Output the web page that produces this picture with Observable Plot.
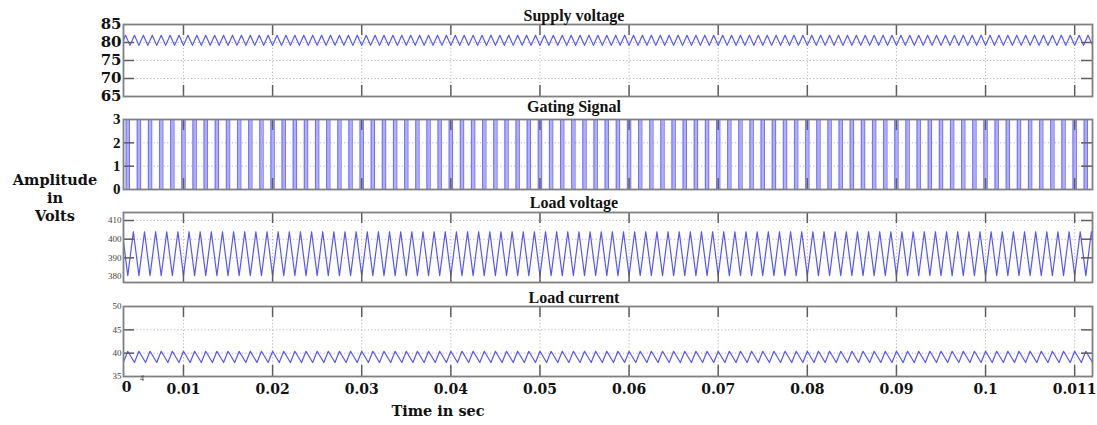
<!DOCTYPE html>
<html>
<head>
<meta charset="utf-8">
<script src="https://cdn.jsdelivr.net/npm/d3@7"></script>
<script src="https://cdn.jsdelivr.net/npm/@observablehq/plot@0.6"></script>
<style>
  body { margin: 0; background: #fff; overflow: hidden; }
  #chart { position: relative; width: 1097px; height: 425px; font-family: "Liberation Serif", "Times New Roman", serif; }
  .lbl { position: absolute; font-weight: bold; font-size: 16px; color: #111; white-space: nowrap; transform: translate(-50%, -50%); line-height: 1; }
  .wide { font-family: "DejaVu Serif", serif; font-size: 14.5px; }
  .small { font-size: 8px; font-weight: normal; color: #333; }
  .panel { position: absolute; left: 0; }
</style>
</head>
<body>
<div id="chart"></div>
<script>
// ---- time axis ----
const timeDomain = [0.00327, 0.112];
const xTicks = [0.01, 0.02, 0.03, 0.04, 0.05, 0.06, 0.07, 0.08, 0.09, 0.10, 0.11];
const xTickLabels = ["0.01", "0.02", "0.03", "0.04", "0.05", "0.06", "0.07", "0.08", "0.09", "0.1", "0.011"];
const originLabel = "0";
const xAxisTitle = "Time in sec";
const yAxisTitle = ["Amplitude", "in", "Volts"];
const panelTitles = ["Supply voltage", "Gating Signal", "Load voltage", "Load current"];

// ---- supply voltage ----
const supplyDomain = [65, 85];
const supplyTicks = [65, 70, 75, 80, 85];
const supplyGrid = [70, 75, 80];
const supplyPeriod = 0.001;                 // s
const supplyPhase = [0, 0.5];               // trough, crest (fraction of a period)
const supplyLevel = [79.2, 82.0];           // V

// ---- gating signal ----
const gatingDomain = [0, 3];
const gatingTicks = [0, 1, 2, 3];
const gatingGrid = [1, 2];
const gatingPeriod = 0.00125;               // s
const gatingLevels = [0, 3];                // off / on
const gatingOffFraction = 0.3;              // share of each period spent off

// ---- load voltage ----
const loadVDomain = [376.8, 414.3];
const loadVTicks = [380, 390, 400, 410];
const loadVGrid = [390, 400, 410];
const loadVPeriod = 0.00125;
const loadVPhase = [0, 0.5];
const loadVLevel = [380.5, 404.0];

// ---- load current ----
const loadIDomain = [35, 50];
const loadITicks = [35, 40, 45, 50];
const loadIGrid = [40, 45];
const loadIPeriod = 0.00125;
const loadIPhase = [0, 0.6];
const loadILevel = [40.4, 38.0];

// repeat one measured cycle over the visible time span
function repeatCycle(period, phases, levels) {
  const out = [];
  const k0 = Math.floor(timeDomain[0] / period) - 1;
  const k1 = Math.ceil(timeDomain[1] / period) + 1;
  for (let k = k0; k <= k1; k++) {
    phases.forEach((p, i) => out.push({t: (k + p) * period, v: levels[i]}));
  }
  return out;
}

function gatingPulses() {
  const out = [];
  const half = gatingOffFraction * gatingPeriod / 2;
  const k0 = Math.floor(timeDomain[0] / gatingPeriod) - 1;
  const k1 = Math.ceil(timeDomain[1] / gatingPeriod) + 1;
  for (let k = k0; k <= k1; k++) out.push({x1: k * gatingPeriod - half, x2: k * gatingPeriod + half});
  return out;
}
function gatingTrace(pulses) {
  const [lo, hi] = gatingLevels;
  return pulses.flatMap(p => [{t: p.x1, v: hi}, {t: p.x1, v: lo}, {t: p.x2, v: lo}, {t: p.x2, v: hi}]);
}

const W = 1097, ML = 123, MR = 5, FW = W - ML - MR;
const WAVE = "#5656ff";
const FRAME = "#808080";
const TICK = "#5e5e5e";
const GRID = "#b5b5b5";
const TICK_LEN = 11;
const WIDE_FONT = '"DejaVu Serif", serif';

function panel({frameTop, frameH, yDomain, yTicks, yGrid, labelStyle, marks, bottomAxis}) {
  const mt = 4, mb = bottomAxis ? 40 : 4;
  const axisLabels = Plot.axisY(yTicks, {
    anchor: "left", tickSize: 0, tickPadding: labelStyle.pad, label: null,
    fontSize: labelStyle.size, fontWeight: labelStyle.weight, fill: labelStyle.color,
    fontFamily: labelStyle.family
  });
  const m = [
    Plot.ruleX(xTicks, {stroke: GRID, strokeDasharray: "1.2,2.2", strokeWidth: 1}),
    Plot.ruleY(yGrid, {stroke: GRID, strokeDasharray: "1.2,2.2", strokeWidth: 1}),
    ...marks,
    Plot.ruleX(xTicks, {stroke: TICK, strokeWidth: 1.5, insetBottom: frameH - TICK_LEN}),
    Plot.ruleX(xTicks, {stroke: TICK, strokeWidth: 1.5, insetTop: frameH - TICK_LEN}),
    Plot.ruleY(yGrid, {stroke: TICK, strokeWidth: 1.5, insetRight: FW - TICK_LEN}),
    Plot.ruleY(yGrid, {stroke: TICK, strokeWidth: 1.5, insetLeft: FW - TICK_LEN}),
    Plot.frame({stroke: FRAME, strokeWidth: 1.8}),
    axisLabels
  ];
  if (bottomAxis) {
    m.push(Plot.axisX(xTicks, {
      anchor: "bottom", tickSize: 0, tickPadding: 8, label: null,
      tickFormat: d => xTickLabels[xTicks.indexOf(d)],
      fontSize: 14, fontWeight: "bold", fill: "#111", fontFamily: WIDE_FONT
    }));
    m.push(Plot.text([originLabel], {
      x: () => timeDomain[0], frameAnchor: "bottom", dx: 3, dy: 15,
      text: d => d, fontSize: 14, fontWeight: "bold", fill: "#111", fontFamily: WIDE_FONT
    }));
  }
  const svg = Plot.plot({
    width: W, height: frameH + mt + mb,
    marginLeft: ML, marginRight: MR, marginTop: mt, marginBottom: mb,
    x: {domain: timeDomain, axis: null},
    y: {domain: yDomain, axis: null},
    style: {fontFamily: '"Liberation Serif", "Times New Roman", serif', background: "transparent", overflow: "visible"},
    marks: m
  });
  svg.classList.add("panel");
  svg.style.top = (frameTop - mt) + "px";
  return svg;
}

const chart = document.getElementById("chart");
const wideBold = {size: 15, weight: "bold", color: "#111", pad: 2, family: WIDE_FONT};
const bold = {size: 15, weight: "bold", color: "#111", pad: 3};
const small = {size: 9, weight: "normal", color: "#444", pad: 2};

const pulses = gatingPulses();

chart.append(
  panel({
    frameTop: 24, frameH: 72, yDomain: supplyDomain, yTicks: supplyTicks, yGrid: supplyGrid, labelStyle: wideBold,
    marks: [Plot.line(repeatCycle(supplyPeriod, supplyPhase, supplyLevel), {x: "t", y: "v", stroke: WAVE, strokeWidth: 1.2, clip: true})]
  }),
  panel({
    frameTop: 119, frameH: 70, yDomain: gatingDomain, yTicks: gatingTicks, yGrid: gatingGrid, labelStyle: bold,
    marks: [
      Plot.rect(pulses, {x1: "x1", x2: "x2", y1: gatingLevels[0], y2: gatingLevels[1], fill: "#b0b0ff", clip: true}),
      Plot.line(gatingTrace(pulses), {x: "t", y: "v", stroke: "#7474ff", strokeWidth: 1.1, clip: true})
    ]
  }),
  panel({
    frameTop: 212, frameH: 70, yDomain: loadVDomain, yTicks: loadVTicks, yGrid: loadVGrid, labelStyle: small,
    marks: [Plot.line(repeatCycle(loadVPeriod, loadVPhase, loadVLevel), {x: "t", y: "v", stroke: WAVE, strokeWidth: 1.2, clip: true})]
  }),
  panel({
    frameTop: 306, frameH: 70, yDomain: loadIDomain, yTicks: loadITicks, yGrid: loadIGrid, labelStyle: small,
    marks: [Plot.line(repeatCycle(loadIPeriod, loadIPhase, loadILevel), {x: "t", y: "v", stroke: WAVE, strokeWidth: 1.2, clip: true})],
    bottomAxis: true
  })
);

// titles and axis captions
function label(text, x, y, cls = "lbl") {
  const d = document.createElement("div");
  d.className = cls;
  d.textContent = text;
  d.style.left = x + "px";
  d.style.top = y + "px";
  chart.append(d);
}
const titleY = [16, 107, 203, 298];
panelTitles.forEach((t, i) => label(t, 574, titleY[i]));
yAxisTitle.forEach((t, i) => label(t, 55, 180 + i * 18, "lbl wide"));
label(xAxisTitle, 438, 411, "lbl wide");
label("4", 142, 379, "lbl small");
</script>
</body>
</html>
